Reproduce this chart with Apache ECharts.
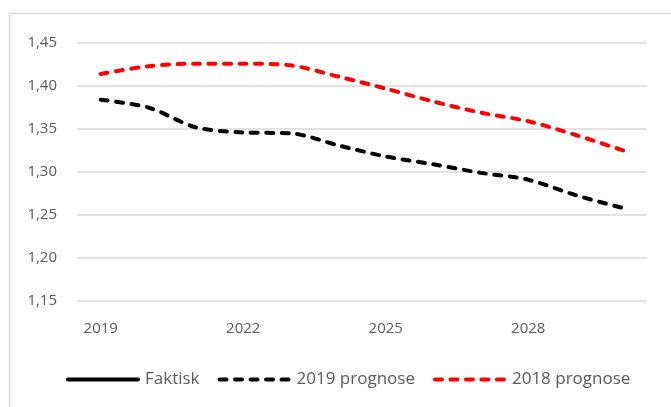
<!DOCTYPE html>
<html>
<head>
<meta charset="utf-8">
<script src="https://cdn.jsdelivr.net/npm/echarts@6/dist/echarts.min.js"></script>
<style>
  html, body { margin: 0; padding: 0; background: #fff; }
  #chart { width: 671px; height: 407px; }
</style>
</head>
<body>
<div id="chart"></div>
<script>
// årstall på x-aksen
const years = ['2019', '2020', '2021', '2022', '2023', '2024', '2025', '2026', '2027', '2028', '2029', '2030'];
// faktisk: ingen verdier synlige i figuren
const faktisk = [];
const prognose2019 = [1.384, 1.375, 1.352, 1.346, 1.345, 1.331, 1.318, 1.309, 1.299, 1.291, 1.273, 1.258];
const prognose2018 = [1.414, 1.423, 1.426, 1.426, 1.424, 1.411, 1.397, 1.382, 1.369, 1.359, 1.343, 1.325];

const chart = echarts.init(document.getElementById('chart'));

const fontFamily = '"Open Sans", "Noto Sans", sans-serif';
const dash = [7, 8.5];

const option = {
  animation: false,
  textStyle: { fontFamily: fontFamily },
  // ramme øverst og til venstre
  graphic: [
    { type: 'line', shape: { x1: 10, y1: 13.5, x2: 671, y2: 13.5 }, style: { stroke: '#d9d9d9', lineWidth: 1.5 } },
    { type: 'line', shape: { x1: 9.5, y1: 13, x2: 9.5, y2: 407 }, style: { stroke: '#d9d9d9', lineWidth: 1.5 } }
  ],
  grid: { left: 77, right: 24, top: 43, bottom: 106 },
  legend: {
    bottom: 14,
    left: 61,
    itemWidth: 70,
    itemHeight: 10,
    itemGap: 18,
    itemStyle: { opacity: 0 },
    lineStyle: { width: 4 },
    textStyle: { fontSize: 17, color: '#595959', fontFamily: fontFamily, padding: [0, 0, 0, 2] },
    data: ['Faktisk', '2019 prognose', '2018 prognose']
  },
  xAxis: {
    type: 'category',
    data: years,
    boundaryGap: true,
    axisLine: { show: false },
    axisTick: { show: false },
    axisLabel: { interval: 2, margin: 20, fontSize: 15, color: '#595959' }
  },
  yAxis: {
    type: 'value',
    min: 1.15,
    max: 1.45,
    interval: 0.05,
    axisLine: { show: false },
    axisTick: { show: false },
    splitLine: { lineStyle: { color: '#d9d9d9', width: 1.5 } },
    axisLabel: {
      margin: 20,
      fontSize: 15,
      color: '#595959',
      formatter: v => v.toFixed(2).replace('.', ',')
    }
  },
  series: [
    {
      name: 'Faktisk',
      type: 'line',
      data: faktisk,
      symbol: 'none',
      itemStyle: { color: '#000' },
      lineStyle: { color: '#000', width: 4, cap: 'round' }
    },
    {
      name: '2019 prognose',
      type: 'line',
      data: prognose2019,
      smooth: 0.3,
      symbol: 'none',
      itemStyle: { color: '#000' },
      lineStyle: { color: '#000', width: 4, type: dash, cap: 'round' }
    },
    {
      name: '2018 prognose',
      type: 'line',
      data: prognose2018,
      smooth: 0.3,
      symbol: 'none',
      itemStyle: { color: '#ff0000' },
      lineStyle: { color: '#ff0000', width: 4, type: dash, cap: 'round' }
    }
  ]
};

chart.setOption(option);
</script>
</body>
</html>
